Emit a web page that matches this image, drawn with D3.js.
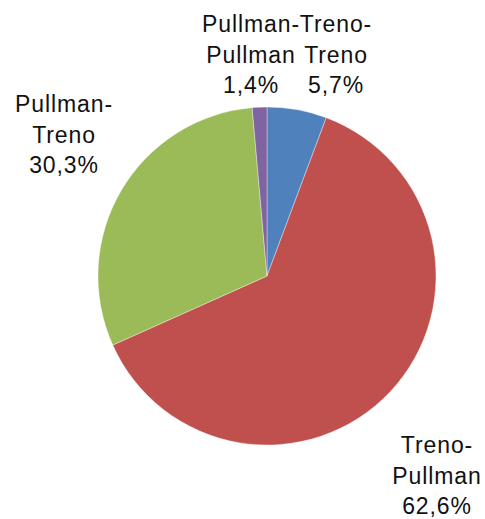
<!DOCTYPE html>
<html>
<head>
<meta charset="utf-8">
<script src="https://cdn.jsdelivr.net/npm/d3@7"></script>
<style>
  body { margin: 0; background: #fff; }
  text { font-family: "Liberation Sans", Arial, sans-serif; font-size: 23px; fill: #111; letter-spacing: 0.9px; }
</style>
</head>
<body>
<div id="chart"></div>
<script>
// data, clockwise from 12 o'clock
var categories = ["Treno-Treno", "Treno-Pullman", "Pullman-Treno", "Pullman-Pullman"];
var values = [5.7, 62.6, 30.3, 1.4];
var labelLines = [["Treno-", "Treno"], ["Treno-", "Pullman"], ["Pullman-", "Treno"], ["Pullman-", "Pullman"]];
var colors = ["#4F81BD", "#C0504D", "#9BBB59", "#8064A2"];

var w = 485;
var h = 519;
var cx = 267;
var cy = 276;
var radius = 169;

// where excel put each label (centre x, first baseline y)
var labelAt = {
  "Treno-Treno": [336, 32],
  "Treno-Pullman": [437, 453],
  "Pullman-Treno": [64, 112],
  "Pullman-Pullman": [251, 32]
};
var lineGap = 30.5;

var rows = categories.map(function (c, i) {
  return { name: c, value: values[i], lines: labelLines[i], color: colors[i] };
});

var svg = d3.select("#chart").append("svg").attr("width", w).attr("height", h);

var pie = d3.pie().sort(null).value(function (d) { return d.value; });
var arc = d3.arc().innerRadius(0).outerRadius(radius);

var g = svg.append("g").attr("transform", "translate(" + cx + "," + cy + ")");

g.selectAll("path")
  .data(pie(rows))
  .enter()
  .append("path")
  .attr("d", arc)
  .style("fill", function (d) { return d.data.color; })
  .style("stroke", "#fff")
  .style("stroke-width", 0.6)
  .style("stroke-opacity", 0.6);

var fmt = function (v) { return d3.format(".1f")(v).replace(".", ",") + "%"; };

var labels = svg.selectAll("text.lbl")
  .data(rows)
  .enter()
  .append("text")
  .attr("class", "lbl")
  .attr("text-anchor", "middle");

labels.each(function (d) {
  var p = labelAt[d.name];
  var t = d3.select(this);
  d.lines.concat([fmt(d.value)]).forEach(function (s, k) {
    t.append("tspan").attr("x", p[0]).attr("y", p[1] + k * lineGap).text(s);
  });
});
</script>
</body>
</html>
